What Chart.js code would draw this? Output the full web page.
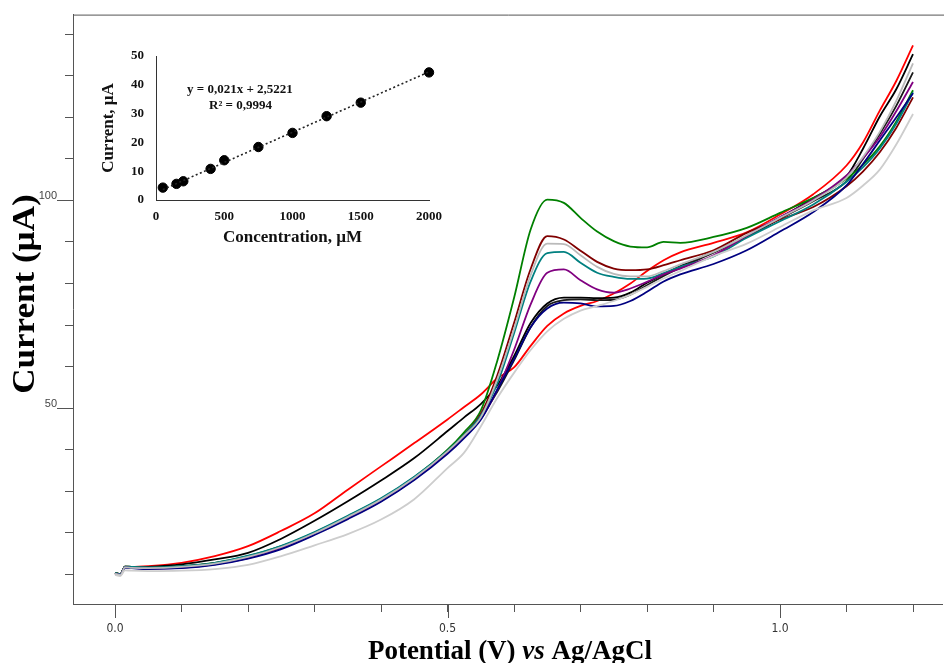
<!DOCTYPE html>
<html><head><meta charset="utf-8">
<script src="https://cdn.jsdelivr.net/npm/chart.js@4.4.0/dist/chart.umd.min.js"></script>
<style>
html,body{margin:0;padding:0;background:#fff;}
#wrap{position:relative;width:944px;height:663px;overflow:hidden;}
#main{position:absolute;left:0;top:0;}
#inset{position:absolute;left:90px;top:20px;}
</style></head><body>
<div id="wrap"><canvas id="main" width="944" height="663"></canvas><canvas id="inset" width="370" height="240"></canvas></div>
<script>
// ---------- main voltammogram data ----------
const volts = [0, 0.008, 0.015, 0.025, 0.05, 0.1, 0.15, 0.2, 0.25, 0.3, 0.35, 0.4, 0.45, 0.5,
  0.525, 0.55, 0.575, 0.6, 0.625, 0.65, 0.675, 0.7, 0.725, 0.75, 0.775, 0.8, 0.825,
  0.85, 0.9, 0.95, 1.0, 1.05, 1.1, 1.125, 1.15, 1.175, 1.2];

const curLightGray = [9.9,9.6,11.0,10.9,10.8, 10.9,11.3,12.3,14.4,17.0,19.7,23.2,28.1,35.6,
  39.3,45.6,52.5,58.5,64.0,68.5,71.5,73.5,74.6,75.8,77.3,79.2,81.2, 83.0,86.6,89.6,93.6,97.6,100.6, 103.6,107.4,113.5,120.8];
const curSilver = [10.2,9.9,11.7,11.6,11.5, 11.8,12.6,14.2,16.6,19.9,23.8,28.0,33.2,39.6,
  43.4,47.8,57.0,69.0,82.0,89.6,89.5,86.8,84.0,82.3,81.7,81.7,83.0, 84.6,87.6,91.6,95.8,100.0,105.5, 110.5,116.5,124.0,133.0];
const curNavy = [10.2,9.9,11.6,11.5,11.3, 11.5,12.3,13.8,16.1,19.5,23.3,27.5,32.7,39.0,
  42.8,47.2,54.5,61.8,69.5,74.0,75.4,75.2,74.5,74.6,75.8,78.0,80.5, 82.2,84.7,88.0,92.5,97.2,103.6, 108.8,114.4,120.0,125.8];
const curPurple = [10.2,9.9,11.7,11.6,11.4, 11.6,12.4,13.9,16.3,19.7,23.5,27.7,32.9,39.3,
  43.1,47.4,54.5,64.0,75.0,82.6,83.4,80.8,78.6,77.8,78.8,80.4,82.2, 83.6,86.8,91.5,96.0,100.2,106.0, 110.2,115.2,121.5,128.5];
const curTeal = [10.4,10.1,11.9,11.8,11.7, 12.0,12.8,14.5,16.9,20.2,24.1,28.3,33.5,39.8,
  43.6,48.2,56.0,68.0,80.5,87.3,87.6,85.0,82.6,81.6,81.1,81.2,82.5, 84.0,86.5,91.0,95.0,99.0,104.5, 108.0,112.5,118.5,126.0];
const curMaroon = [10.3,10.0,11.8,11.7,11.6, 11.9,12.7,14.3,16.7,20.0,23.9,28.1,33.3,39.7,
  43.6,48.6,58.0,70.5,83.5,91.4,90.6,87.9,85.2,83.6,83.2,83.4,84.4, 85.6,88.0,92.2,95.4,98.4,103.4, 107.0,111.6,117.5,124.8];
const curGreen = [10.4,10.1,11.9,11.8,11.6, 12.0,12.8,14.4,16.8,20.1,24.0,28.2,33.4,40.0,
  44.2,49.4,61.5,76.5,93.0,100.2,99.4,95.8,92.5,90.2,88.9,88.7,90.0, 89.8,91.2,93.4,97.0,100.6,105.2, 108.6,113.0,119.0,126.5];
const curBlack2 = [10.3,10.0,11.8,11.6,11.5, 11.8,12.6,14.2,16.6,19.9,23.8,28.0,33.2,39.6,
  43.4,47.8,54.0,61.5,69.5,74.6,76.0,76.2,76.0,76.1,77.3,79.6,81.8, 83.8,87.4,91.2,95.6,99.8,104.6, 110.0,116.0,122.8,130.8];
const curBlack1 = [10.4,10.1,11.9,11.7,11.8, 12.4,13.6,15.2,18.6,22.9,27.6,32.6,38.0,44.5,
  47.8,51.0,55.5,62.5,70.5,75.2,76.6,76.6,76.5,76.6,77.8,80.2,82.2, 84.2,87.6,91.4,95.8,100.5,105.8, 112.5,120.2,126.8,135.2];
const curRed = [10.4,10.1,11.9,11.8,12.0, 12.8,14.4,16.8,20.5,24.7,30.4,36.0,41.6,47.3,
  50.3,53.3,57.2,59.8,65.0,69.8,72.8,74.6,75.8,77.6,80.0,83.0,85.6, 87.5,89.8,92.3,96.6,101.5,108.4, 114.0,121.6,128.8,137.3];

const seriesNames  = ['light gray','silver','navy','purple','teal','maroon','green','black 2','black 1','red'];
const seriesColors = ['#cdcdcd','#bababa','#000080','#800080','#008080','#800000','#008000','#1a1a1a','#000000','#ff0000'];
const seriesValues = [curLightGray,curSilver,curNavy,curPurple,curTeal,curMaroon,curGreen,curBlack2,curBlack1,curRed];

const xTickValues = [0,0.1,0.2,0.3,0.4,0.5,0.6,0.7,0.8,0.9,1.0,1.1,1.2];
const xTickLabels = {'0':'0.0','0.5':'0.5','1':'1.0'};
const yTickValues = [10,20,30,40,50,60,70,80,90,100,110,120,130,140];
const yTickLabels = {'50':'50','100':'100'};
const xMajor = [0,0.5,1.0];
const yMajor = [50,100];

// ---------- inset calibration data ----------
const concentrations = [50,150,200,400,500,750,1000,1250,1500,2000];
const peakCurrents   = [4.3,5.6,6.5,10.8,13.8,18.4,23.3,29.1,33.8,44.3];
const trendConc = [50,2000];
const trendCurrent = [3.6,44.5];
const insetXTicks = [0,500,1000,1500,2000];
const insetYTicks = [0,10,20,30,40,50];

const SERIF = '"Liberation Serif","Times New Roman",serif';
const SANS = '"Liberation Sans",Arial,sans-serif';
const NARROW = '"Liberation Sans Narrow","DejaVu Sans Condensed","Liberation Sans",sans-serif';
const FRAME = '#555';

const mainDeco = {
  id:'mainDeco',
  afterDraw(chart){
    const {ctx, chartArea:a, scales:{x,y}} = chart;
    ctx.save();
    ctx.strokeStyle = FRAME; ctx.lineWidth = 1;
    ctx.beginPath();
    ctx.moveTo(a.left, a.top+0.5); ctx.lineTo(a.right+2, a.top+0.5);
    yMajor.forEach(v=>{const py=Math.round(y.getPixelForValue(v))+0.5; ctx.moveTo(a.left-16,py); ctx.lineTo(a.left,py);});
    xMajor.forEach(v=>{const px=Math.round(x.getPixelForValue(v))+0.5; ctx.moveTo(px,a.bottom); ctx.lineTo(px,a.bottom+14);});
    ctx.stroke();
    ctx.fillStyle = '#000';
    // y title
    ctx.save();
    ctx.font = 'bold 31px '+SERIF;
    ctx.translate(26, 294); ctx.rotate(-Math.PI/2); ctx.scale(1.13,1);
    ctx.textAlign='center'; ctx.textBaseline='middle';
    ctx.fillText('Current (µA)',0,0);
    ctx.restore();
    // x title with italic "vs"
    const parts = [['Potential (V) ','bold 27px '+SERIF],['vs','italic bold 27px '+SERIF],[' Ag/AgCl','bold 27px '+SERIF]];
    let w = 0; parts.forEach(p=>{ctx.font=p[1]; w+=ctx.measureText(p[0]).width;});
    let px = 510 - w/2;
    ctx.textBaseline='alphabetic'; ctx.textAlign='left';
    parts.forEach(p=>{ctx.font=p[1]; ctx.fillText(p[0],px,659); px+=ctx.measureText(p[0]).width;});
    ctx.restore();
  }
};

new Chart(document.getElementById('main'), {
  type:'line',
  data:{datasets: seriesValues.map((vals,i)=>({
    label: seriesNames[i],
    data: volts.map((v,j)=>({x:v,y:vals[j]})),
    borderColor: seriesColors[i], backgroundColor: seriesColors[i],
    borderWidth: 1.8, pointRadius: 0, fill:false, cubicInterpolationMode:'monotone'
  }))},
  options:{
    responsive:false, animation:false, devicePixelRatio:1,
    layout:{padding:{left:0, top:14, right:2, bottom:0}},
    plugins:{legend:{display:false}, tooltip:{enabled:false}},
    scales:{
      x:{type:'linear', min:-0.0632, max:1.2436,
        afterFit:s=>{s.height=59;},
        afterBuildTicks:s=>{s.ticks = xTickValues.map(v=>({value:v}));},
        grid:{drawOnChartArea:false, tickLength:8, color:FRAME},
        border:{color:FRAME, width:1},
        ticks:{autoSkip:false, maxRotation:0, padding:10, color:'#333', font:{family:NARROW, size:12},
          callback:v=>xTickLabels[String(+(+v).toFixed(2))]||''}
      },
      y:{type:'linear', min:2.885, max:144.71,
        afterFit:s=>{s.width=73;},
        afterBuildTicks:s=>{s.ticks = yTickValues.map(v=>({value:v}));},
        grid:{drawOnChartArea:false, tickLength:8, color:FRAME},
        border:{color:FRAME, width:1},
        ticks:{autoSkip:false, padding:8, labelOffset:-4, color:'#444', font:{family:SANS, size:11},
          callback:v=>yTickLabels[String(v)]||''}
      }
    }
  },
  plugins:[mainDeco]
});

const insetDeco = {
  id:'insetDeco',
  afterDraw(chart){
    const ctx = chart.ctx;
    ctx.save();
    ctx.fillStyle='#111'; ctx.font='bold 13px '+SERIF; ctx.textBaseline='middle'; ctx.textAlign='left';
    ctx.fillText('y = 0,021x + 2,5221', 97, 70);
    ctx.fillText('R² = 0,9994', 119, 86);
    ctx.restore();
  }
};

new Chart(document.getElementById('inset'), {
  type:'scatter',
  data:{datasets:[
    {type:'line', label:'fit', data: trendConc.map((c,i)=>({x:c,y:trendCurrent[i]})),
     borderColor:'#222', borderWidth:1.6, borderDash:[2,2.5], pointRadius:0, fill:false, clip:false},
    {type:'scatter', label:'points', data: concentrations.map((c,i)=>({x:c,y:peakCurrents[i]})),
     backgroundColor:'#000', borderColor:'#000', pointRadius:4.7, clip:false}
  ]},
  options:{
    responsive:false, animation:false, devicePixelRatio:1,
    layout:{padding:{left:0, top:36, right:31, bottom:0}},
    plugins:{legend:{display:false}, tooltip:{enabled:false}},
    scales:{
      x:{type:'linear', min:0, max:2000,
        afterFit:s=>{s.height=60;},
        afterBuildTicks:s=>{s.ticks = insetXTicks.map(v=>({value:v}));},
        grid:{display:false, drawTicks:false},
        border:{display:true, color:'#333', width:1},
        ticks:{autoSkip:false, maxRotation:0, padding:9, color:'#111', font:{family:SERIF, size:13, weight:'bold'},
          callback:v=>String(v)},
        title:{display:true, text:'Concentration, µM', color:'#111', font:{family:SERIF, size:17, weight:'bold'}, padding:{top:0,bottom:12}}
      },
      y:{type:'linear', min:0, max:50,
        afterFit:s=>{s.width=66;},
        afterBuildTicks:s=>{s.ticks = insetYTicks.map(v=>({value:v}));},
        grid:{display:false, drawTicks:false},
        border:{display:true, color:'#333', width:1},
        ticks:{autoSkip:false, padding:12, color:'#111', font:{family:SERIF, size:13, weight:'bold'},
          callback:v=>String(v)},
        title:{display:true, text:'Current, µA', color:'#111', font:{family:SERIF, size:17, weight:'bold'}, padding:{top:8,bottom:0}}
      }
    }
  },
  plugins:[insetDeco]
});
</script>
</body></html>
